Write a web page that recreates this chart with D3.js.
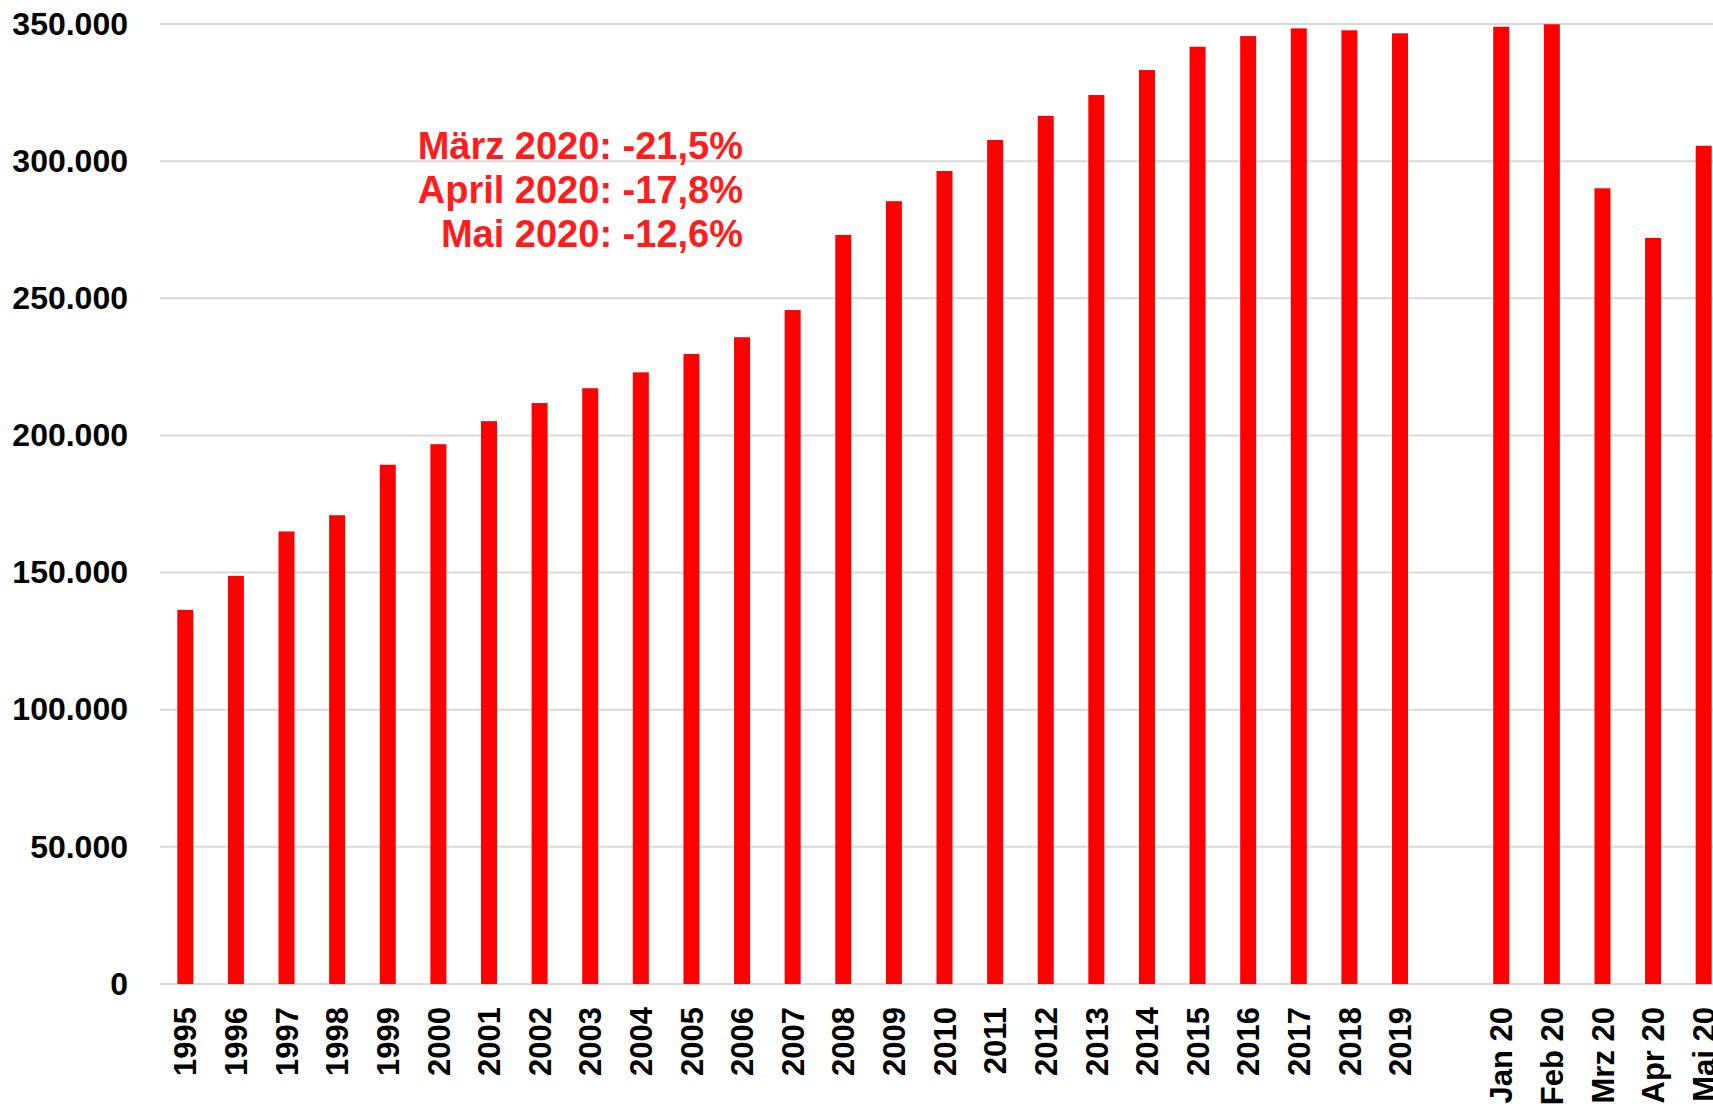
<!DOCTYPE html>
<html>
<head>
<meta charset="utf-8">
<script src="https://cdn.jsdelivr.net/npm/d3@7"></script>
<style>
  html, body { margin: 0; padding: 0; background: #fff; overflow: hidden; }
  svg { display: block; font-family: "Liberation Sans", Arial, sans-serif; }
</style>
</head>
<body>
<div id="chart"></div>
<script>
// categories: years, one empty slot, then months of 2020
const years = ["1995", "1996", "1997", "1998", "1999", "2000", "2001", "2002", "2003", "2004",
    "2005", "2006", "2007", "2008", "2009", "2010", "2011", "2012", "2013", "2014",
    "2015", "2016", "2017", "2018", "2019"];
const months = ["Jan 20", "Feb 20", "Mrz 20", "Apr 20", "Mai 20"];

const yearValues = [136400, 148800, 165000, 170900, 189300, 196800, 205200, 211800, 217200, 223000,
    229700, 235800, 245700, 273100, 285400, 296400, 307700, 316500, 324100, 333200,
    341700, 345600, 348400, 347700, 346600];
const monthValues = [349000, 349900, 290100, 272000, 305600];

const yTicks = [0, 50000, 100000, 150000, 200000, 250000, 300000, 350000];

const notes = ["März 2020: -21,5%", "April 2020: -17,8%", "Mai 2020: -12,6%"];

const GAP = "gap";
const categories = [...years, GAP, ...months];
const data = [
    ...years.map((c, i) => ({ cat: c, value: yearValues[i] })),
    ...months.map((c, i) => ({ cat: c, value: monthValues[i] }))
];

const W = 1713, H = 1107;
const plot = { left: 160, right: 1729, top: 24, bottom: 984 };

const svg = d3.select("#chart")
    .append("svg")
    .attr("width", W)
    .attr("height", H);

const x = d3.scaleBand()
    .domain(categories)
    .range([plot.left, plot.right])
    .paddingInner(0.684)
    .paddingOuter(0.342);

const y = d3.scaleLinear()
    .domain([0, 350000])
    .range([plot.bottom, plot.top]);

const de = d3.formatLocale({ decimal: ",", thousands: ".", grouping: [3], currency: ["", " €"] });
const fmt = de.format(",d");

// grid lines
svg.append("g")
    .selectAll("line")
    .data(yTicks)
    .join("line")
    .attr("x1", plot.left)
    .attr("x2", W)
    .attr("y1", d => y(d))
    .attr("y2", d => y(d))
    .attr("stroke", "#d9d9d9")
    .attr("stroke-width", 2);

// y axis labels
const yAxis = svg.append("g")
    .attr("transform", `translate(${plot.left},0)`)
    .call(d3.axisLeft(y).tickValues(yTicks).tickFormat(fmt).tickSize(0).tickPadding(32));
yAxis.select(".domain").remove();
yAxis.selectAll("text")
    .attr("fill", "#000")
    .style("font-size", "32px")
    .style("font-weight", "700")
    .style("font-family", "'Liberation Sans', Arial, sans-serif");

// bars
svg.append("g")
    .selectAll("rect")
    .data(data)
    .join("rect")
    .attr("x", d => x(d.cat))
    .attr("width", x.bandwidth())
    .attr("y", d => y(d.value))
    .attr("height", d => y(0) - y(d.value))
    .attr("fill", "#ff0000");

// x axis labels
const xAxis = svg.append("g")
    .attr("transform", `translate(0,${plot.bottom})`)
    .call(d3.axisBottom(x).tickSize(0).tickFormat(d => d === GAP ? "" : d));
xAxis.select(".domain").remove();
xAxis.selectAll("text")
    .attr("transform", "rotate(-90)")
    .attr("text-anchor", "end")
    .attr("x", -23)
    .attr("y", 0)
    .attr("dy", "0.36em")
    .attr("fill", "#000")
    .style("font-size", "31px")
    .style("font-weight", "700")
    .style("font-family", "'Liberation Sans', Arial, sans-serif");

// annotation
svg.append("g")
    .selectAll("text")
    .data(notes)
    .join("text")
    .attr("x", 743)
    .attr("y", (d, i) => 159 + i * 44)
    .attr("text-anchor", "end")
    .attr("fill", "#ff1c1c")
    .style("font-size", "38px")
    .style("font-weight", "700")
    .text(d => d);
</script>
</body>
</html>
